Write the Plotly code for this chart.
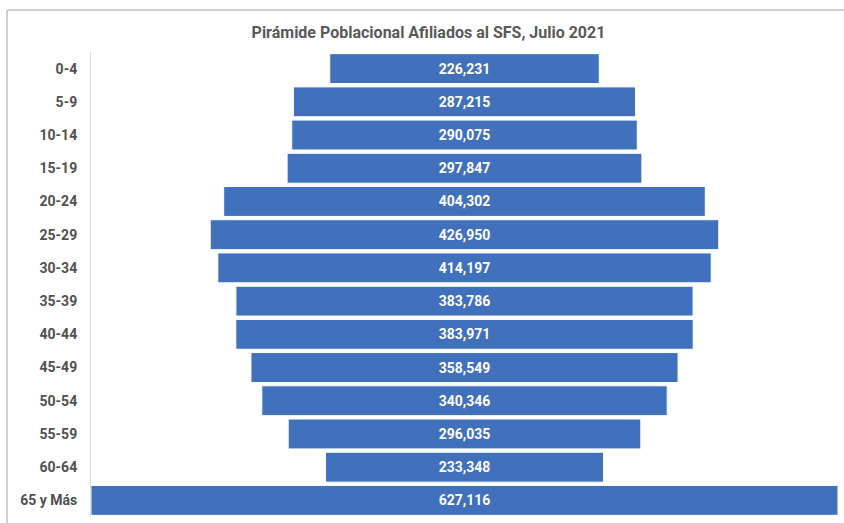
import plotly.graph_objects as go

categories = ["0-4", "5-9", "10-14", "15-19", "20-24", "25-29", "30-34", "35-39",
              "40-44", "45-49", "50-54", "55-59", "60-64", "65 y Más"]
values = [226231, 287215, 290075, 297847, 404302, 426950, 414197, 383786,
          383971, 358549, 340346, 296035, 233348, 627116]
title = "Pirámide Poblacional Afiliados al SFS, Julio 2021"

labels = [f"{v:,}" for v in values]
bases = [-v / 2 for v in values]
vmax = max(values)

W, H = 844, 523
L, R, T, B = 91, 6, 52, 6
FONT = "Roboto, sans-serif"

fig = go.Figure(go.Bar(
    y=categories, x=values, base=bases, orientation="h",
    marker=dict(color="#4170BD", line=dict(color="#ffffff", width=1)),
    text=labels, textposition="inside", insidetextanchor="middle",
    texttemplate="<b>%{text}</b>",
    textfont=dict(color="white", size=14, family=FONT),
    hoverinfo="skip",
))

pw = W - L - R
ph = H - T - B
fig.update_layout(
    width=W, height=H,
    margin=dict(l=L, r=R, t=T, b=B),
    paper_bgcolor="white", plot_bgcolor="white",
    bargap=0.1,
    showlegend=False,
    title=dict(text="<b>" + title + "</b>", x=428.5 / W, xanchor="center",
               y=1 - 32 / H, yanchor="middle",
               font=dict(size=16, color="#595959", family=FONT)),
    xaxis=dict(range=[-vmax / 2, vmax / 2], visible=False, fixedrange=True),
    yaxis=dict(autorange="reversed", showgrid=False, showline=True, linecolor="#d9d9d9",
               linewidth=1, ticks="", ticklabelstandoff=10,
               tickprefix="<b>", ticksuffix="</b>",
               tickfont=dict(size=14, color="#505050", family=FONT)),
    shapes=[
        dict(type="line", xref="paper", yref="paper",
             x0=(7 - L) / pw, x1=(W + 5 - L) / pw, y0=1 + (T - 10) / ph, y1=1 + (T - 10) / ph,
             line=dict(color="#d0d0d0", width=2)),
        dict(type="line", xref="paper", yref="paper",
             x0=(7 - L) / pw, x1=(7 - L) / pw, y0=1 + (T - 10) / ph, y1=-(B + 5) / ph,
             line=dict(color="#d0d0d0", width=2)),
    ],
)

fig.write_html("out.html")
